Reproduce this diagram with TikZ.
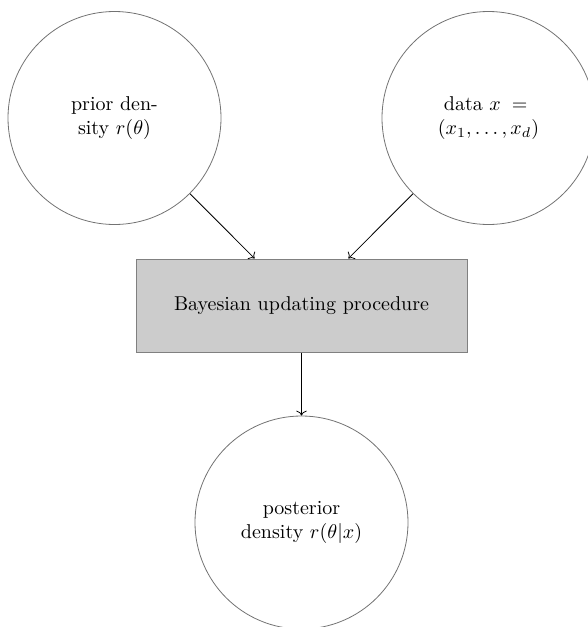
\documentclass[tikz,border=0pt]{standalone}
\usetikzlibrary{arrows.meta}
\begin{document}
\begin{tikzpicture}[x=1pt,y=1pt,
  bubble/.style={circle,draw=black!55,line width=0.4pt,minimum size=106.5pt,inner sep=0pt,align=center},
  procbox/.style={rectangle,draw=black!50,line width=0.5pt,fill=black!20,minimum width=165.5pt,minimum height=46.5pt,inner sep=0pt},
  conn/.style={->,line width=0.4pt,black}]
\useasboundingbox (0,0) rectangle (294,-313.5);
\node[bubble] (prior) at (57.25,-59) {prior den-\\sity $r(\theta)$};
\node[bubble] (data) at (244.25,-59) {data $x\;={}$\\$(x_1,\ldots,x_d)$};
\node[procbox] (bayes) at (150.75,-152.75) {Bayesian updating procedure};
\node[bubble] (post) at (150.75,-261.25) {posterior\\density $r(\theta|x)$};
\draw[conn] (prior) -- (bayes);
\draw[conn] (data) -- (bayes);
\draw[conn] (bayes) -- (post);
\end{tikzpicture}
\end{document}
